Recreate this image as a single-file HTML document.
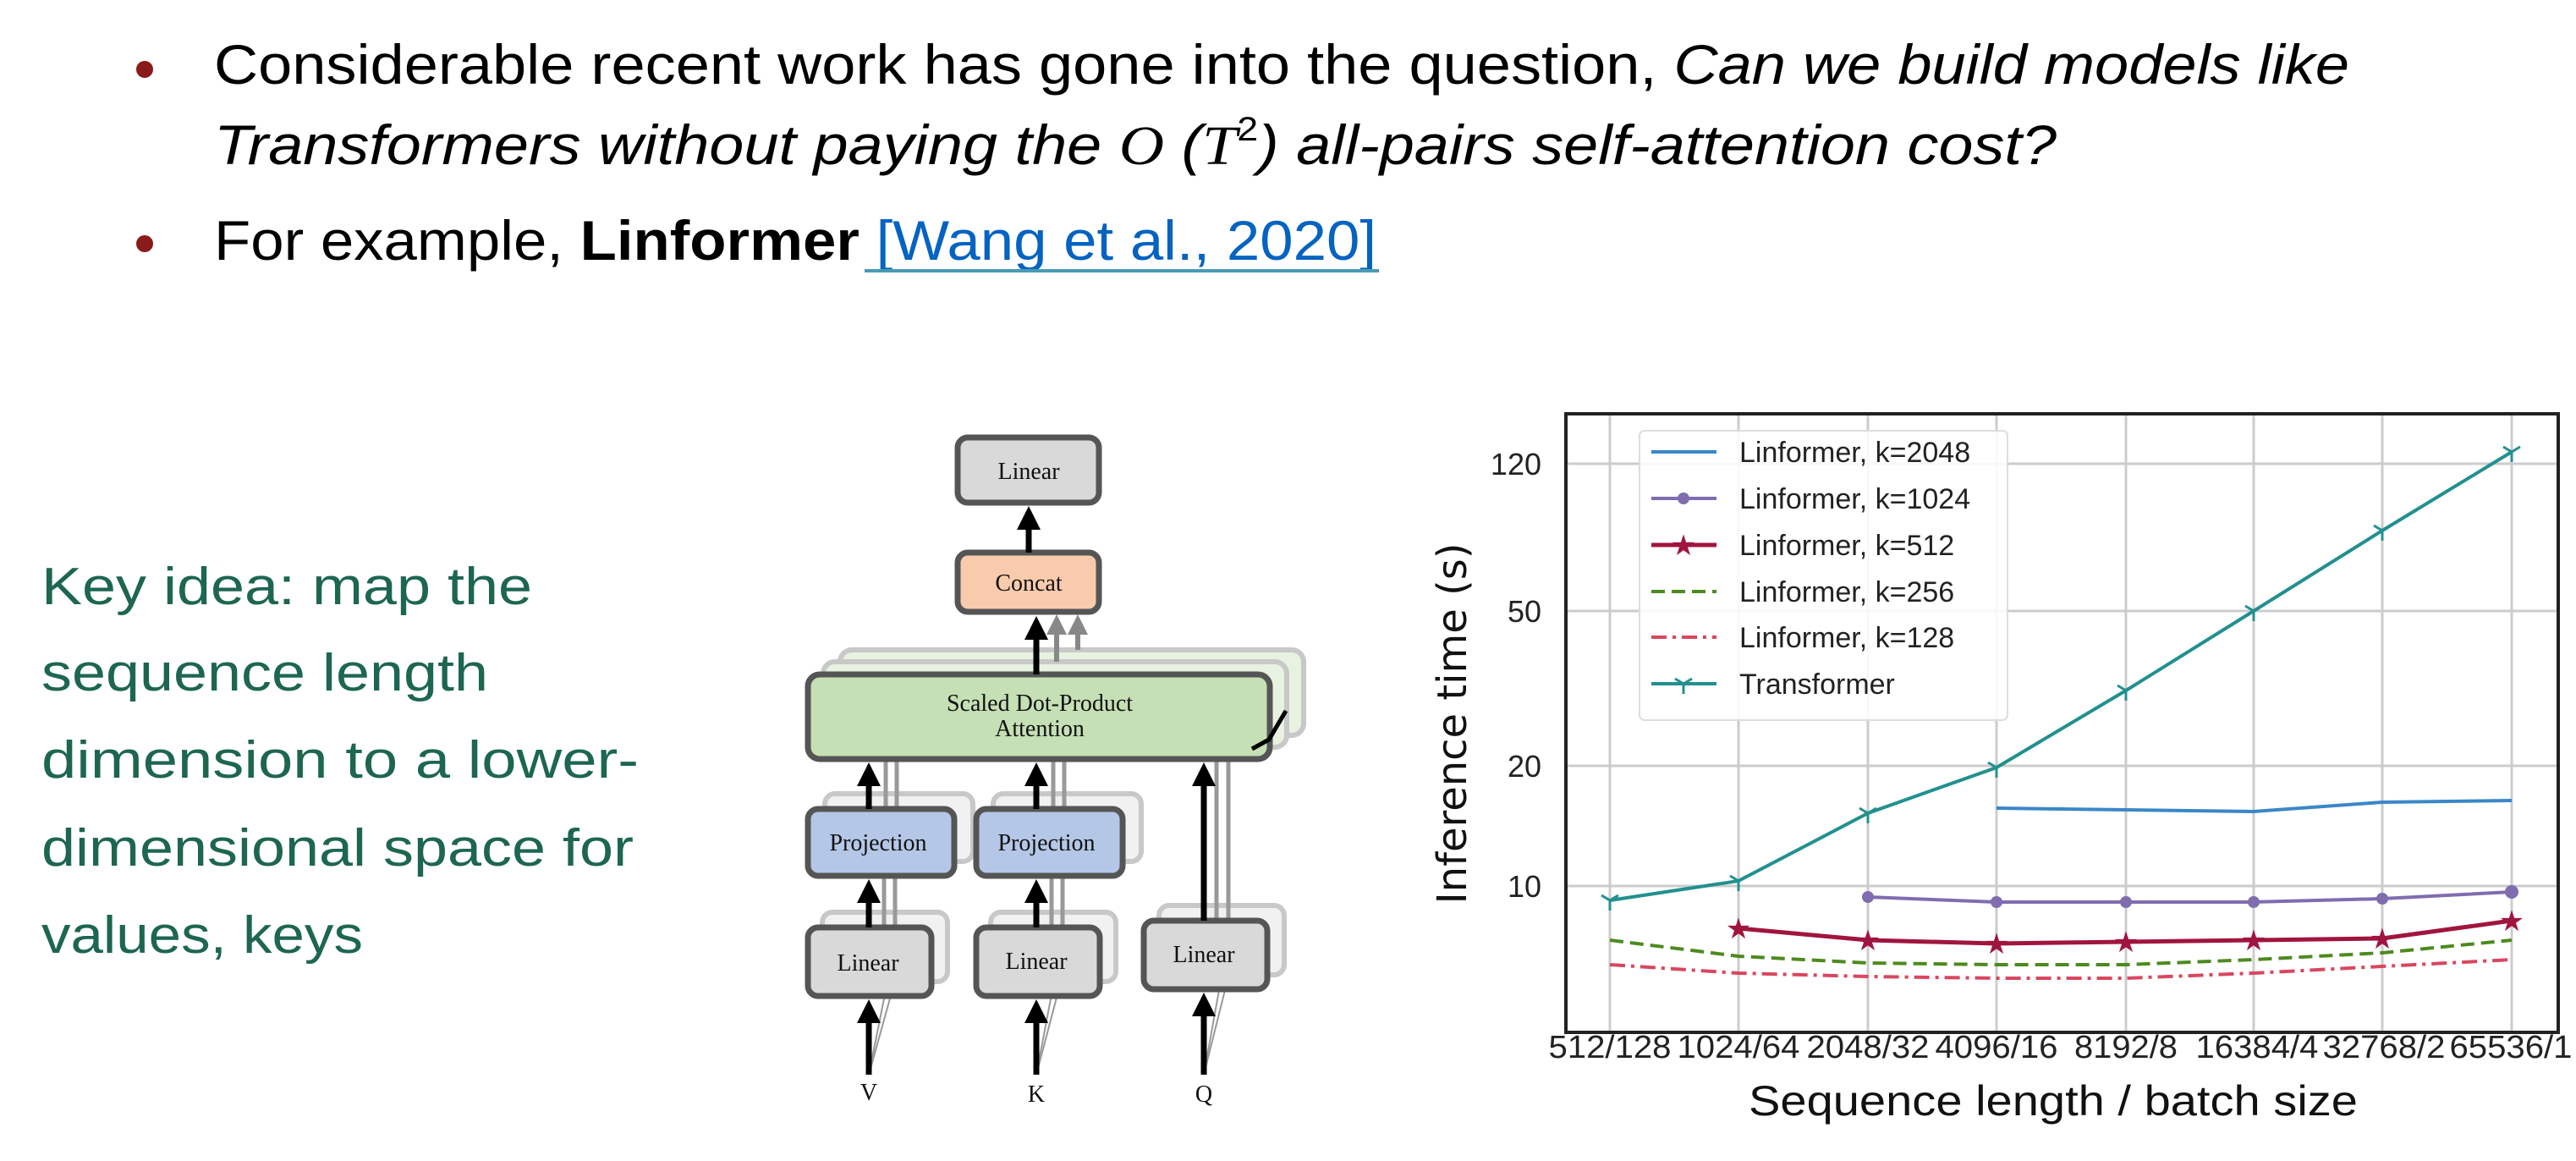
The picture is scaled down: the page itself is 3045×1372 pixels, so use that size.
<!DOCTYPE html>
<html><head><meta charset="utf-8"><style>html,body{margin:0;padding:0;background:#fff}svg{display:block}</style></head>
<body>
<svg width="3045" height="1372" viewBox="0 0 3045 1372" xmlns="http://www.w3.org/2000/svg" font-family="Liberation Sans, sans-serif">
<rect width="3045" height="1372" fill="#fff"/>
<!-- bullets -->
<circle cx="171" cy="82" r="10" fill="#8b1a1a"/>
<circle cx="171" cy="288" r="10" fill="#8b1a1a"/>
<text x="253" y="99" font-size="66" textLength="2524" lengthAdjust="spacingAndGlyphs">Considerable recent work has gone into the question, <tspan font-style="italic">Can we build models like</tspan></text>
<text x="253" y="194" font-size="66" font-style="italic" textLength="2178" lengthAdjust="spacingAndGlyphs">Transformers without paying the <tspan font-family="Liberation Serif, serif">O</tspan> (<tspan font-family="Liberation Serif, serif">T</tspan><tspan font-size="40" dy="-28" font-style="normal">2</tspan><tspan dy="28">)</tspan> all-pairs self-attention cost?</text>
<text x="253" y="307" font-size="66" textLength="1374" lengthAdjust="spacingAndGlyphs">For example, <tspan font-weight="bold">Linformer</tspan> <tspan fill="#0563c1">[Wang et al., 2020]</tspan></text>
<rect x="1022" y="318" width="608" height="4" fill="#4a9ab5"/>
<!-- key idea -->
<g fill="#1d6651" font-size="62">
<text x="49" y="714" textLength="580" lengthAdjust="spacingAndGlyphs">Key idea: map the</text>
<text x="49" y="816" textLength="528" lengthAdjust="spacingAndGlyphs">sequence length</text>
<text x="49" y="919" textLength="706" lengthAdjust="spacingAndGlyphs">dimension to a lower-</text>
<text x="49" y="1023" textLength="700" lengthAdjust="spacingAndGlyphs">dimensional space for</text>
<text x="49" y="1126" textLength="380" lengthAdjust="spacingAndGlyphs">values, keys</text>
</g>
<!-- diagram -->
<defs>
<marker id="ah" markerWidth="4" markerHeight="4" refX="2" refY="2" orient="auto" markerUnits="strokeWidth"><path d="M0,0 L4,2 L0,4 z" fill="#000"/></marker>
<marker id="ahg" markerWidth="4" markerHeight="4" refX="2" refY="2" orient="auto" markerUnits="strokeWidth"><path d="M0,0 L4,2 L0,4 z" fill="#888"/></marker>
</defs>
<g font-family="Liberation Serif, serif" text-anchor="middle">
<!-- back copies -->
<g opacity="0.4" stroke="#777" stroke-width="6">
<rect x="993" y="768" width="548" height="101" rx="14" fill="#c5e0b4"/>
<rect x="973" y="782" width="548" height="101" rx="14" fill="#c5e0b4"/>
<rect x="975" y="938" width="175" height="80" rx="12" fill="#ddd"/>
<rect x="1174" y="938" width="175" height="80" rx="12" fill="#ddd"/>
<rect x="972" y="1078" width="148" height="82" rx="12" fill="#ddd"/>
<rect x="1171" y="1078" width="148" height="82" rx="12" fill="#ddd"/>
<rect x="1370" y="1070" width="148" height="82" rx="12" fill="#ddd"/>
</g>
<g stroke="#999" stroke-width="5" fill="none">
<line x1="1047" y1="955" x2="1047" y2="897"/><line x1="1060" y1="955" x2="1060" y2="897"/>
<line x1="1245" y1="955" x2="1245" y2="897"/><line x1="1258" y1="955" x2="1258" y2="897"/>
<line x1="1045" y1="1095" x2="1045" y2="1035"/><line x1="1058" y1="1095" x2="1058" y2="1035"/>
<line x1="1243" y1="1095" x2="1243" y2="1035"/><line x1="1256" y1="1095" x2="1256" y2="1035"/>
<line x1="1438" y1="1087" x2="1438" y2="897"/><line x1="1452" y1="1087" x2="1452" y2="897"/>
<line x1="1027" y1="1270" x2="1045" y2="1180" stroke-width="2"/><line x1="1027" y1="1270" x2="1052" y2="1180" stroke-width="2"/>
<line x1="1225" y1="1270" x2="1243" y2="1175" stroke-width="2"/><line x1="1225" y1="1270" x2="1250" y2="1175" stroke-width="2"/>
<line x1="1423" y1="1270" x2="1441" y2="1170" stroke-width="2"/><line x1="1423" y1="1270" x2="1448" y2="1170" stroke-width="2"/>
</g>
<line x1="1249" y1="782" x2="1249" y2="738" stroke="#888" stroke-width="6" marker-end="url(#ahg)"/>
<line x1="1274" y1="768" x2="1274" y2="738" stroke="#888" stroke-width="6" marker-end="url(#ahg)"/>
<!-- boxes -->
<g stroke="#555" stroke-width="7">
<rect x="1132" y="517" width="167" height="77" rx="12" fill="#d9d9d9"/>
<rect x="1132" y="653" width="167" height="70" rx="12" fill="#f8cbad"/>
<rect x="955" y="797" width="546" height="100" rx="14" fill="#c5e0b4"/>
<rect x="955" y="956" width="173" height="79" rx="12" fill="#b4c7e7"/>
<rect x="1154" y="956" width="173" height="79" rx="12" fill="#b4c7e7"/>
<rect x="955" y="1096" width="146" height="81" rx="12" fill="#d9d9d9"/>
<rect x="1154" y="1096" width="146" height="81" rx="12" fill="#d9d9d9"/>
<rect x="1352" y="1088" width="146" height="81" rx="12" fill="#d9d9d9"/>
</g>
<path d="M1480,885 L1500,874 L1520,840" stroke="#000" stroke-width="5" fill="none"/>
<g stroke="#000" stroke-width="7">
<line x1="1216" y1="653" x2="1216" y2="612" marker-end="url(#ah)"/>
<line x1="1225" y1="797" x2="1225" y2="742" marker-end="url(#ah)"/>
<line x1="1027" y1="956" x2="1027" y2="915" marker-end="url(#ah)"/>
<line x1="1225" y1="956" x2="1225" y2="915" marker-end="url(#ah)"/>
<line x1="1027" y1="1096" x2="1027" y2="1053" marker-end="url(#ah)"/>
<line x1="1225" y1="1096" x2="1225" y2="1053" marker-end="url(#ah)"/>
<line x1="1423" y1="1088" x2="1423" y2="915" marker-end="url(#ah)"/>
<line x1="1027" y1="1270" x2="1027" y2="1195" marker-end="url(#ah)"/>
<line x1="1225" y1="1270" x2="1225" y2="1195" marker-end="url(#ah)"/>
<line x1="1423" y1="1270" x2="1423" y2="1187" marker-end="url(#ah)"/>
</g>
<g font-size="28" fill="#111">
<text x="1216" y="566">Linear</text>
<text x="1216" y="698">Concat</text>
<text x="1229" y="840">Scaled Dot-Product</text>
<text x="1229" y="870">Attention</text>
<text x="1038" y="1005">Projection</text>
<text x="1237" y="1005">Projection</text>
<text x="1026" y="1147">Linear</text>
<text x="1225" y="1145">Linear</text>
<text x="1423" y="1137">Linear</text>
<text x="1027" y="1300">V</text>
<text x="1225" y="1302">K</text>
<text x="1423" y="1302">Q</text>
</g>
</g>
<!-- chart -->
<g stroke="#ccc" stroke-width="3">
<line x1="1903" y1="489" x2="1903" y2="1220"/><line x1="2055" y1="489" x2="2055" y2="1220"/>
<line x1="2208" y1="489" x2="2208" y2="1220"/><line x1="2360" y1="489" x2="2360" y2="1220"/>
<line x1="2513" y1="489" x2="2513" y2="1220"/><line x1="2664" y1="489" x2="2664" y2="1220"/>
<line x1="2816" y1="489" x2="2816" y2="1220"/><line x1="2969" y1="489" x2="2969" y2="1220"/>
<line x1="1851" y1="548" x2="3024" y2="548"/><line x1="1851" y1="722" x2="3024" y2="722"/>
<line x1="1851" y1="905" x2="3024" y2="905"/><line x1="1851" y1="1047" x2="3024" y2="1047"/>
</g>
<rect x="1851" y="489" width="1173" height="731" fill="none" stroke="#222" stroke-width="4"/>
<g fill="none" stroke-width="4">
<polyline stroke="#3a87c8" points="2360,955 2513,957 2664,959 2816,948 2969,946"/>
<polyline stroke="#7f6db0" points="2208,1060 2360,1066 2513,1066 2664,1066 2816,1062 2969,1054"/>
<polyline stroke="#a0153e" stroke-width="5" points="2055,1097 2208,1111 2360,1115 2513,1113 2664,1111 2816,1109 2969,1088"/>
<polyline stroke="#4d8a1f" stroke-dasharray="16,8" points="1903,1111 2055,1130 2208,1138 2360,1140 2513,1140 2664,1134 2816,1126 2969,1111"/>
<polyline stroke="#d9475f" stroke-dasharray="18,7,4,7" points="1903,1140 2055,1150 2208,1154 2360,1156 2513,1156 2664,1150 2816,1142 2969,1134"/>
<polyline stroke="#22908f" points="1903,1064 2055,1041 2208,961 2360,907 2513,816 2664,722 2816,627 2969,534"/>
</g>
<g fill="#7f6db0"><circle cx="2208" cy="1060" r="7"/><circle cx="2360" cy="1066" r="7"/><circle cx="2513" cy="1066" r="7"/><circle cx="2664" cy="1066" r="7"/><circle cx="2816" cy="1062" r="7"/><circle cx="2969" cy="1054" r="8"/></g>
<g fill="#a0153e" font-size="34" text-anchor="middle" font-family="DejaVu Sans, sans-serif">
<text x="2055" y="1109">★</text><text x="2208" y="1123">★</text><text x="2360" y="1127">★</text><text x="2513" y="1125">★</text><text x="2664" y="1123">★</text><text x="2816" y="1121">★</text><text x="2969" y="1100">★</text>
</g>
<g stroke="#22908f" stroke-width="3" fill="none">
<path d="M1893,1058 L1903,1064 L1913,1058 M1903,1064 V1076"/><path d="M2045,1035 L2055,1041 L2065,1035 M2055,1041 V1053"/>
<path d="M2198,955 L2208,961 L2218,955 M2208,961 V973"/><path d="M2350,901 L2360,907 L2370,901 M2360,907 V919"/>
<path d="M2503,810 L2513,816 L2523,810 M2513,816 V828"/><path d="M2654,716 L2664,722 L2674,716 M2664,722 V734"/>
<path d="M2806,621 L2816,627 L2826,621 M2816,627 V639"/><path d="M2959,528 L2969,534 L2979,528 M2969,534 V546"/>
</g>
<!-- legend -->
<rect x="1938" y="509" width="435" height="342" rx="6" fill="#fff" fill-opacity="0.85" stroke="#ddd" stroke-width="2"/>
<g stroke-width="4" fill="none">
<line x1="1952" y1="534" x2="2029" y2="534" stroke="#3a87c8"/>
<line x1="1952" y1="589" x2="2029" y2="589" stroke="#7f6db0"/>
<line x1="1952" y1="644" x2="2029" y2="644" stroke="#a0153e" stroke-width="5"/>
<line x1="1952" y1="699" x2="2029" y2="699" stroke="#4d8a1f" stroke-dasharray="16,8"/>
<line x1="1952" y1="753" x2="2029" y2="753" stroke="#d9475f" stroke-dasharray="18,7,4,7"/>
<line x1="1952" y1="808" x2="2029" y2="808" stroke="#22908f"/>
<path d="M1980,802 L1990,808 L2000,802 M1990,808 V820" stroke="#22908f" stroke-width="3"/>
</g>
<circle cx="1990" cy="589" r="7" fill="#7f6db0"/>
<text x="1990" y="656" fill="#a0153e" font-size="34" text-anchor="middle" font-family="DejaVu Sans, sans-serif">★</text>
<g font-size="34" fill="#222">
<text x="2056" y="546">Linformer, k=2048</text>
<text x="2056" y="601">Linformer, k=1024</text>
<text x="2056" y="656">Linformer, k=512</text>
<text x="2056" y="711">Linformer, k=256</text>
<text x="2056" y="765">Linformer, k=128</text>
<text x="2056" y="820">Transformer</text>
</g>
<g font-size="36" fill="#222" text-anchor="end">
<text x="1822" y="561">120</text><text x="1822" y="735">50</text><text x="1822" y="918">20</text><text x="1822" y="1060">10</text>
</g>
<g font-size="38" fill="#222" text-anchor="middle">
<text x="1903" y="1250" textLength="145" lengthAdjust="spacingAndGlyphs">512/128</text><text x="2055" y="1250" textLength="145" lengthAdjust="spacingAndGlyphs">1024/64</text><text x="2208" y="1250" textLength="145" lengthAdjust="spacingAndGlyphs">2048/32</text><text x="2360" y="1250" textLength="145" lengthAdjust="spacingAndGlyphs">4096/16</text>
<text x="2513" y="1250" textLength="122" lengthAdjust="spacingAndGlyphs">8192/8</text><text x="2668" y="1250" textLength="145" lengthAdjust="spacingAndGlyphs">16384/4</text><text x="2818" y="1250" textLength="145" lengthAdjust="spacingAndGlyphs">32768/2</text><text x="2968" y="1250" textLength="145" lengthAdjust="spacingAndGlyphs">65536/1</text>
</g>
<text x="2427" y="1318" font-size="50" text-anchor="middle" fill="#111" textLength="720" lengthAdjust="spacingAndGlyphs">Sequence length / batch size</text>
<text transform="translate(1733,855) rotate(-90)" font-size="48" text-anchor="middle" font-family="DejaVu Sans, sans-serif" fill="#111">Inference time (s)</text>
</svg>
</body></html>
